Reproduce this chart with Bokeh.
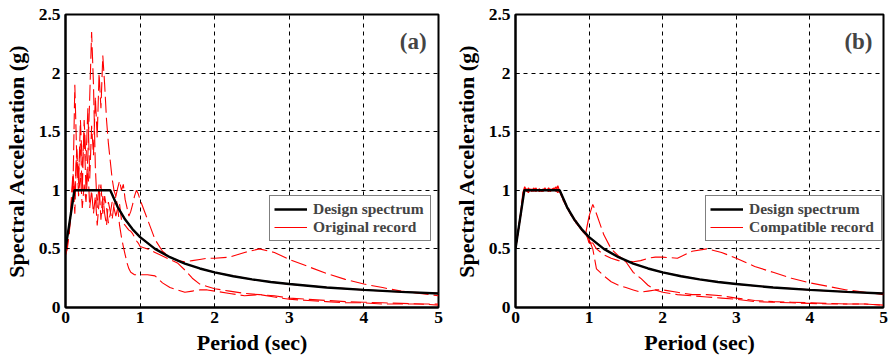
from bokeh.plotting import figure
from bokeh.layouts import row
from bokeh.models import Range1d, FixedTicker, Label, Legend, LegendItem
from bokeh.embed import file_html
from bokeh.resources import INLINE

# ---------------- data ----------------
x_ticks = [0, 1, 2, 3, 4, 5]
x_tick_labels = ["0", "1", "2", "3", "4", "5"]
y_ticks = [0, 0.5, 1, 1.5, 2, 2.5]
y_tick_labels = ["0", "0.5", "1", "1.5", "2", "2.5"]

T_design = [0, 0.12, 0.6, 0.7, 0.8, 0.9, 1.0, 1.2, 1.4, 1.6, 1.8, 2.0, 2.25, 2.5, 2.75, 3.0, 3.5, 4.0, 4.5, 5.0]
Sa_design = [0.5, 1.0, 1.0, 0.857, 0.75, 0.667, 0.6, 0.5, 0.429, 0.375, 0.333, 0.3, 0.267, 0.24, 0.218, 0.2, 0.171, 0.15, 0.133, 0.12]

T_short = [0, 0.025, 0.05, 0.075, 0.1, 0.125, 0.15, 0.175, 0.2, 0.225,
           0.25, 0.275, 0.3, 0.325, 0.35, 0.375, 0.4, 0.425, 0.45, 0.475,
           0.5, 0.525, 0.55, 0.575, 0.6, 0.625, 0.65, 0.675, 0.7, 0.725,
           0.75, 0.775, 0.8, 0.825, 0.85, 0.875, 0.9, 0.925, 0.95, 0.975, 1.0]
T_long_a = [1.1, 1.2, 1.3, 1.4, 1.5, 1.6, 1.7, 1.8, 1.9, 2.0, 2.2, 2.4, 2.6, 2.8, 3.0,
            3.25, 3.5, 3.75, 4.0, 4.25, 4.5, 4.75, 5.0]
T_long_b = [1.05, 1.1, 1.2, 1.3, 1.4, 1.5, 1.6, 1.7, 1.8, 1.9, 2.0, 2.2, 2.4, 2.6, 2.8, 3.0,
            3.25, 3.5, 3.75, 4.0, 4.25, 4.5, 4.75, 5.0]

# original records (panel a)
orig_A_short = [0.45, 0.55, 0.62, 0.9, 1.15, 0.95, 1.35, 1.05, 1.6, 1.2,
                1.5, 1.0, 1.3, 1.8, 2.35, 1.9, 1.2, 0.85, 1.05, 0.75,
                0.95, 0.8, 0.7, 0.9, 0.82, 0.75, 0.88, 0.95, 1.02, 1.08,
                1.0, 1.05, 0.92, 0.85, 0.78, 0.82, 0.88, 0.95, 1.0, 0.97, 0.92]
orig_A_long = [0.75, 0.58, 0.48, 0.43, 0.40, 0.39, 0.40, 0.41, 0.42, 0.42, 0.43, 0.47, 0.50,
               0.47, 0.41, 0.35, 0.29, 0.24, 0.20, 0.17, 0.14, 0.12, 0.10]
orig_B_short = [0.45, 0.5, 0.65, 0.8, 1.0, 1.9, 1.3, 1.15, 1.4, 1.0,
                1.6, 1.25, 1.7, 1.1, 1.55, 1.3, 1.8, 1.45, 2.0, 1.7,
                2.15, 1.9, 1.6, 1.4, 1.25, 1.1, 1.0, 0.95, 0.85, 0.7,
                0.6, 0.52, 0.45, 0.38, 0.33, 0.3, 0.29, 0.28, 0.28, 0.28, 0.28]
orig_B_long = [0.28, 0.27, 0.21, 0.17, 0.15, 0.13, 0.14, 0.15, 0.15, 0.14, 0.12, 0.10, 0.11,
               0.09, 0.07, 0.06, 0.05, 0.04, 0.04, 0.03, 0.03, 0.03, 0.02]
orig_C_short = [0.45, 0.52, 0.7, 0.85, 1.1, 0.8, 1.35, 0.95, 1.15, 0.85,
                1.05, 0.9, 1.2, 0.85, 1.0, 0.8, 0.95, 0.7, 0.9, 1.05,
                0.8, 0.95, 0.85, 0.72, 0.8, 0.9, 0.85, 0.78, 0.85, 0.88,
                0.75, 0.72, 0.7, 0.68, 0.66, 0.65, 0.63, 0.6, 0.57, 0.55, 0.52]
orig_C_long = [0.5, 0.47, 0.44, 0.41, 0.38, 0.32, 0.25, 0.2, 0.18, 0.16, 0.14, 0.12, 0.11,
               0.10, 0.08, 0.07, 0.06, 0.05, 0.045, 0.04, 0.035, 0.03, 0.03]

# compatible records (panel b)
comp_A_short = [0.5, 0.6, 0.72, 0.83, 0.98, 1.03, 0.99, 1.02, 1.0, 1.01,
                0.99, 1.02, 1.0, 1.01, 1.0, 0.99, 1.01, 1.0, 1.02, 1.0,
                1.01, 1.0, 1.03, 1.0, 1.0, 0.96, 0.92, 0.88, 0.86, 0.82,
                0.8, 0.78, 0.75, 0.72, 0.7, 0.68, 0.66, 0.65, 0.62, 0.7, 0.78]
comp_A_long = [0.88, 0.8, 0.62, 0.5, 0.44, 0.40, 0.39, 0.40, 0.42, 0.43, 0.43, 0.42, 0.48,
               0.50, 0.47, 0.42, 0.35, 0.30, 0.25, 0.21, 0.18, 0.15, 0.13, 0.11]
comp_B_short = [0.5, 0.61, 0.7, 0.82, 0.93, 1.02, 1.0, 0.98, 1.01, 1.0,
                1.02, 0.99, 1.0, 1.01, 0.99, 1.0, 1.02, 1.0, 0.99, 1.01,
                1.0, 1.01, 0.99, 1.04, 0.99, 0.95, 0.93, 0.9, 0.85, 0.84,
                0.79, 0.78, 0.74, 0.74, 0.7, 0.69, 0.66, 0.64, 0.63, 0.61, 0.58]
comp_B_long = [0.5, 0.33, 0.27, 0.22, 0.19, 0.17, 0.15, 0.13, 0.14, 0.15, 0.15, 0.13, 0.11,
               0.11, 0.10, 0.08, 0.06, 0.05, 0.045, 0.04, 0.035, 0.03, 0.03, 0.02]
comp_C_short = [0.5, 0.6, 0.71, 0.8, 0.95, 1.0, 1.01, 1.0, 1.0, 0.99,
                1.01, 1.0, 1.0, 0.99, 1.0, 1.01, 1.0, 1.0, 1.0, 0.99,
                1.01, 1.02, 1.0, 0.98, 1.0, 0.97, 0.91, 0.89, 0.85, 0.83,
                0.8, 0.77, 0.76, 0.72, 0.71, 0.68, 0.67, 0.64, 0.63, 0.6, 0.55]
comp_C_long = [0.55, 0.5, 0.45, 0.42, 0.40, 0.39, 0.30, 0.25, 0.19, 0.15, 0.13, 0.11, 0.10,
               0.09, 0.08, 0.07, 0.05, 0.045, 0.04, 0.035, 0.03, 0.03, 0.03, 0.02]

FONT = "Liberation Serif"
RED = "#ff0000"
DASH = "16 5"


def make_panel(tag, rec_label, records, T_long, width, bl, br, legend_x, label_w, solid_short):
    p = figure(width=width, height=362, output_backend="svg", toolbar_location=None,
               x_range=Range1d(0, 5), y_range=Range1d(0, 2.5),
               min_border_left=bl, min_border_right=br, min_border_top=14, min_border_bottom=55)
    p.background_fill_color = "white"
    p.border_fill_color = "white"
    p.outline_line_color = "black"
    p.outline_line_width = 2
    for ax, ticks, labels in ((p.xaxis[0], x_ticks, x_tick_labels), (p.yaxis[0], y_ticks, y_tick_labels)):
        ax.ticker = FixedTicker(ticks=ticks)
        ax.major_label_overrides = {t: l for t, l in zip(ticks, labels)}
        ax.axis_line_width = 2
        ax.axis_line_color = "black"
        ax.major_tick_in = 4
        ax.major_tick_out = 0
        ax.minor_tick_line_color = None
        ax.major_label_text_font = FONT
        ax.major_label_text_font_style = "bold"
        ax.major_label_text_font_size = "17.5px"
        ax.major_label_text_color = "black"
        ax.axis_label_text_font = FONT
        ax.axis_label_text_font_style = "bold"
        ax.axis_label_text_font_size = "22px"
        ax.axis_label_text_color = "black"
    p.xaxis.major_label_standoff = 4
    p.xaxis.axis_label_standoff = 4
    p.yaxis.major_label_standoff = 5
    p.yaxis.axis_label_standoff = 7
    p.xaxis.axis_label = "Period (sec)"
    p.yaxis.axis_label = "Spectral Acceleration (g)"
    p.xgrid[0].ticker = FixedTicker(ticks=[1, 2, 3, 4])
    p.ygrid[0].ticker = FixedTicker(ticks=[0.5, 1, 1.5, 2])
    for g in (p.xgrid[0], p.ygrid[0]):
        g.grid_line_color = "black"
        g.grid_line_dash = "4 4"
        g.grid_line_width = 1

    # hidden proxy drawn beneath the design curve, used for the legend's red glyph
    r_rec = p.line(T_design, Sa_design, line_color=RED, line_width=1.2)

    for short, long_ in records:
        if solid_short:
            p.line(T_short, short, line_color=RED, line_width=1.2)
            p.line(T_short[-1:] + T_long, short[-1:] + long_, line_color=RED, line_width=1.1, line_dash=DASH)
        else:
            p.line(T_short + T_long, short + long_, line_color=RED, line_width=1.1, line_dash=DASH)

    r_design = p.line(T_design, Sa_design, line_color="black", line_width=2.4)

    legend = Legend(items=[LegendItem(label="Design spectrum", renderers=[r_design]),
                           LegendItem(label=rec_label, renderers=[r_rec])],
                    location=(legend_x, 66))
    legend.border_line_color = "black"
    legend.border_line_width = 1.5
    legend.background_fill_alpha = 1
    legend.label_text_font = FONT
    legend.label_text_font_style = "bold"
    legend.label_text_font_size = "15.5px"
    legend.label_height = 18
    legend.label_width = label_w
    legend.glyph_width = 33
    legend.glyph_height = 18
    legend.label_standoff = 6
    legend.padding = 4
    legend.spacing = 0
    legend.margin = 0
    p.add_layout(legend, "center")

    p.add_layout(Label(x=4.66, y=2.27, text=tag, text_font=FONT, text_font_style="bold",
                       text_font_size="23px", text_align="center", text_baseline="middle"))
    return p


pa = make_panel("(a)", "Original record",
                [(orig_A_short, orig_A_long), (orig_B_short, orig_B_long), (orig_C_short, orig_C_long)],
                T_long_a, 450, 62, 12, 204, 113, False)
pb = make_panel("(b)", "Compatible record",
                [(comp_A_short, comp_A_long), (comp_B_short, comp_B_long), (comp_C_short, comp_C_long)],
                T_long_b, 441, 57, 8, 190, 128, True)

layout = row(pa, pb, spacing=0)
open("out.html", "w").write(file_html(layout, INLINE))
